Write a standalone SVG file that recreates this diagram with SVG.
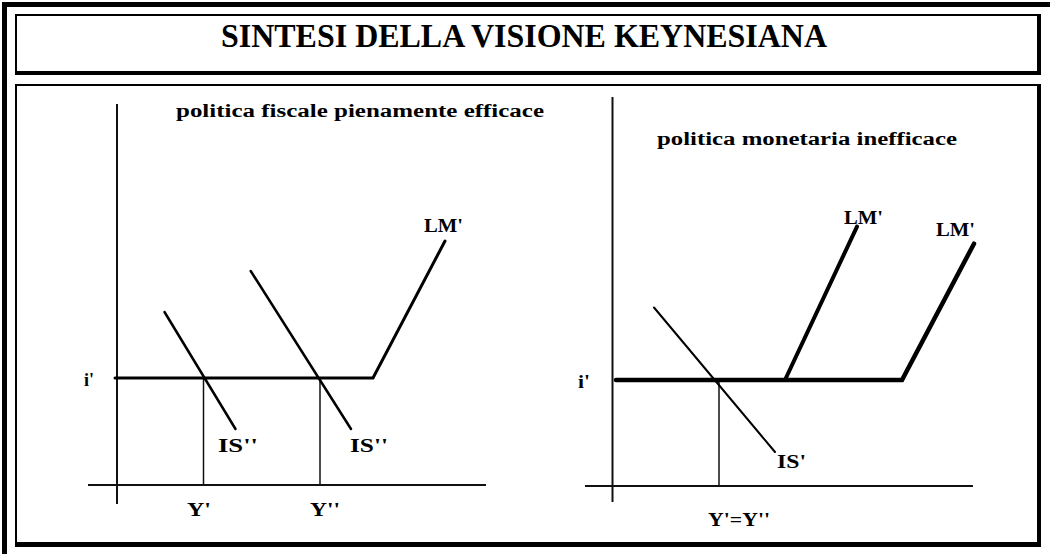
<svg xmlns="http://www.w3.org/2000/svg" width="1050" height="554" viewBox="0 0 1050 554">
<style>
.frame{fill:#000}
.axis{stroke:#111;stroke-width:2;fill:none}
.guide{stroke:#111;stroke-width:1.5;fill:none}
.curve{stroke:#000;stroke-width:2.5;fill:none;stroke-linecap:round}
.thick{stroke:#000;stroke-width:4;fill:none;stroke-linecap:round}
.title{font-family:"Liberation Serif","Times New Roman",serif;font-weight:bold;font-size:33px;fill:#000}
.sub{font-family:"Liberation Serif","Times New Roman",serif;font-weight:bold;font-size:18px;fill:#000}
.lbl{font-family:"Liberation Serif","Times New Roman",serif;font-weight:bold;font-size:19px;fill:#000}
</style>
<rect width="1050" height="554" fill="#fff"/>
<g id="outer-frame">
<rect class="frame" x="2" y="2" width="5" height="552"/>
<rect class="frame" x="2" y="2" width="1048" height="5"/>
</g>
<g id="title-box">
<rect x="16" y="15" width="1023" height="58" fill="none" stroke="#000" stroke-width="2"/>
<rect class="frame" x="15" y="71" width="1026" height="4"/>
<rect class="frame" x="1037" y="14" width="4" height="61"/>
<text class="title" x="524" y="47" text-anchor="middle" textLength="606" lengthAdjust="spacingAndGlyphs">SINTESI DELLA VISIONE KEYNESIANA</text>
</g>
<g id="chart-box">
<rect x="16" y="85" width="1023" height="460" fill="none" stroke="#000" stroke-width="2"/>
<rect class="frame" x="15" y="542" width="1026" height="5"/>
<rect class="frame" x="1037" y="84" width="4" height="463"/>
</g>
<g id="left-chart">
<text class="sub" x="176" y="117" textLength="368" lengthAdjust="spacingAndGlyphs">politica fiscale  pienamente efficace</text>
<g id="left-axes">
<line class="axis" x1="117" y1="104" x2="117" y2="504"/>
<line class="axis" x1="88" y1="485" x2="486" y2="485"/>
</g>
<g id="left-connectors">
<line class="guide" x1="203.5" y1="378" x2="203.5" y2="485"/>
<line class="guide" x1="320" y1="378" x2="320" y2="485"/>
<polyline class="curve" points="115,378 373,378 445,241" style="stroke-width:3"/>
<line class="curve" x1="164.5" y1="312" x2="235.5" y2="429"/>
<line class="curve" x1="250.7" y1="271" x2="351" y2="429"/>
</g>
<text class="lbl" x="84" y="386" textLength="10" lengthAdjust="spacingAndGlyphs">i'</text>
<text class="lbl" x="424" y="232" textLength="39" lengthAdjust="spacingAndGlyphs">LM'</text>
<text class="lbl" x="218" y="452" textLength="40" lengthAdjust="spacingAndGlyphs">IS''</text>
<text class="lbl" x="350" y="452" textLength="38" lengthAdjust="spacingAndGlyphs">IS''</text>
<text class="lbl" x="187" y="516" textLength="24" lengthAdjust="spacingAndGlyphs">Y'</text>
<text class="lbl" x="310" y="516" textLength="30" lengthAdjust="spacingAndGlyphs">Y''</text>
</g>
<g id="right-chart">
<text class="sub" x="657" y="145" textLength="300" lengthAdjust="spacingAndGlyphs">politica monetaria  inefficace</text>
<g id="right-axes">
<line class="axis" x1="612.5" y1="97" x2="612.5" y2="502"/>
<line class="axis" x1="585" y1="486" x2="973" y2="486"/>
</g>
<g id="right-connectors">
<line class="guide" x1="719" y1="380" x2="719" y2="486"/>
<line class="curve" x1="654" y1="307.5" x2="775" y2="452" style="stroke-width:2"/>
<polyline class="thick" points="616,380 902,380 974,243.7" style="stroke-width:4.5"/>
<line class="thick" x1="785" y1="380" x2="857" y2="226.6"/>
</g>
<text class="lbl" x="578" y="388" textLength="12" lengthAdjust="spacingAndGlyphs">i'</text>
<text class="lbl" x="844" y="224" textLength="39" lengthAdjust="spacingAndGlyphs">LM'</text>
<text class="lbl" x="936" y="236" textLength="39" lengthAdjust="spacingAndGlyphs">LM'</text>
<text class="lbl" x="777" y="468" textLength="29" lengthAdjust="spacingAndGlyphs">IS'</text>
<text class="lbl" x="708" y="526" textLength="62" lengthAdjust="spacingAndGlyphs">Y'=Y''</text>
</g>
</svg>
